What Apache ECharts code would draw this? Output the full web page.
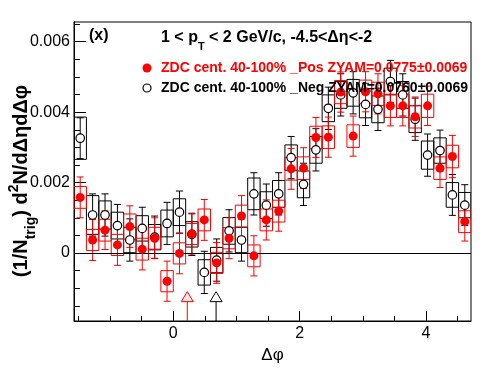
<!DOCTYPE html>
<html><head><meta charset="utf-8">
<script src="https://cdn.jsdelivr.net/npm/echarts@6/dist/echarts.min.js"></script>
<style>html,body{margin:0;padding:0;background:#fff}#c{width:496px;height:374px}</style>
</head><body><div id="c"></div>
<script>
// ---- data ----
const xMin = -Math.PI / 2, xMax = 3 * Math.PI / 2;
const nBins = 32;
const binWidth = (xMax - xMin) / nBins;
const binCenters = Array.from({length: nBins}, (_, i) => xMin + (i + 0.5) * binWidth);

const posVals = [1.58,0.37,0.65,0.23,0.75,0.11,0.42,-0.80,-0.01,0.54,0.94,-0.28,0.42,1.05,-0.08,0.94,
                 1.19,2.39,2.41,3.28,3.29,4.57,3.32,4.58,4.52,4.18,4.18,3.87,4.18,2.41,2.74,0.89];
const posErr  = [0.58,0.58,0.55,0.58,0.59,0.59,0.58,0.57,0.58,0.57,0.58,0.58,0.58,0.58,0.57,0.57,
                 0.57,0.58,0.58,0.57,0.57,0.57,0.57,0.57,0.57,0.57,0.57,0.56,0.56,0.55,0.60,0.55];
const posSys  = [0.31,0.30,0.31,0.30,0.36,0.31,0.31,0.30,0.30,0.30,0.31,0.30,0.30,0.31,0.31,0.31,
                 0.31,0.32,0.32,0.32,0.32,0.33,0.32,0.33,0.33,0.33,0.33,0.32,0.33,0.32,0.32,0.31];

const negVals = [3.26,1.08,1.08,0.78,0.37,0.70,0.45,0.84,1.16,0.53,-0.55,-0.20,0.63,0.37,1.68,1.36,
                 1.68,2.71,1.95,2.93,4.11,4.49,4.55,4.22,4.08,4.87,4.49,3.80,2.78,2.91,1.65,1.36];
const negErr  = [0.58,0.60,0.60,0.60,0.60,0.60,0.60,0.60,0.60,0.60,0.60,0.60,0.60,0.60,0.60,0.60,
                 0.60,0.60,0.60,0.60,0.60,0.60,0.60,0.60,0.60,0.60,0.60,0.60,0.60,0.58,0.58,0.58];
const negSys  = [0.60,0.55,0.40,0.38,0.36,0.36,0.36,0.38,0.38,0.36,0.36,0.36,0.38,0.36,0.45,0.38,
                 0.38,0.36,0.38,0.38,0.38,0.38,0.38,0.38,0.38,0.38,0.38,0.38,0.40,0.36,0.35,0.36];

const scale = 1e-3;
const zyamMinX = {pos: 0.222, neg: 0.678};
const zyamMarkY = -1.38e-3;

const xLabelTicks = [0, 2, 4];
const xMinorTicks = [-1.5,-1,-0.5,0,0.5,1,1.5,2,2.5,3,3.5,4,4.5];
const yLabelTicks = [0, 0.002, 0.004, 0.006];
const yMinorTicks = [-0.0015,-0.001,-0.0005,0,0.0005,0.001,0.0015,0.002,0.0025,0.003,0.0035,0.004,0.0045,0.005,0.0055,0.006,0.0065];
const yMin = -0.00193, yMax = 0.00656;

// ---- build ----
function rows(vals, err, sys) {
  return binCenters.map((x, i) => [x, vals[i] * scale, err[i] * scale, sys[i] * scale]);
}
const posData = rows(posVals, posErr, posSys);
const negData = rows(negVals, negErr, negSys);

function boxSeries(data, color) {
  return {
    type: 'custom', data, z: 2, clip: true, silent: true,
    renderItem(params, api) {
      const x = api.value(0), v = api.value(1), s = api.value(3);
      const p1 = api.coord([x - binWidth / 2, v + s]);
      const p2 = api.coord([x + binWidth / 2, v - s]);
      return {type: 'rect', shape: {x: p1[0], y: p1[1], width: p2[0] - p1[0], height: p2[1] - p1[1]},
              style: {fill: 'none', stroke: color, lineWidth: 1}};
    }
  };
}
function errSeries(data, color) {
  return {
    type: 'custom', data, z: 3, clip: true, silent: true,
    renderItem(params, api) {
      const x = api.value(0), v = api.value(1), e = api.value(2);
      const hi = api.coord([x, v + e]), lo = api.coord([x, v - e]);
      const c = 3.5;
      return {type: 'group', children: [
        {type: 'line', shape: {x1: hi[0], y1: hi[1], x2: lo[0], y2: lo[1]}, style: {stroke: color, lineWidth: 1}},
        {type: 'line', shape: {x1: hi[0] - c, y1: hi[1], x2: hi[0] + c, y2: hi[1]}, style: {stroke: color, lineWidth: 1}},
        {type: 'line', shape: {x1: lo[0] - c, y1: lo[1], x2: lo[0] + c, y2: lo[1]}, style: {stroke: color, lineWidth: 1}}
      ]};
    }
  };
}
function zyamSeries(x, color, fill) {
  return {
    type: 'custom', data: [[x, zyamMarkY]], z: 6, clip: false, silent: true,
    renderItem(params, api) {
      const p = api.coord([api.value(0), api.value(1)]);
      const bottom = api.coord([api.value(0), yMin]);
      return {type: 'group', children: [
        {type: 'line', shape: {x1: p[0], y1: p[1], x2: bottom[0], y2: bottom[1]}, style: {stroke: color, lineWidth: 1}},
        {type: 'polygon', shape: {points: [[p[0] - 6, p[1]], [p[0] + 6, p[1]], [p[0], p[1] - 10]]},
         style: {fill: fill, stroke: color, lineWidth: 1}}
      ]};
    }
  };
}

const baseFont = 'Liberation Sans, Arial, Helvetica, sans-serif';
const option = {
  animation: false,
  backgroundColor: '#fff',
  grid: {left: 74, right: 25, top: 22, bottom: 53, show: true, borderColor: '#000', borderWidth: 1, backgroundColor: 'transparent'},
  xAxis: [
    {type: 'value', min: xMin, max: xMax, position: 'bottom', offset: 0,
     axisLine: {show: true, onZero: false, lineStyle: {color: '#000', width: 1}},
     axisTick: {show: true, inside: true, length: 10, customValues: xLabelTicks, lineStyle: {color: '#000'}},
     axisLabel: {show: true, customValues: xLabelTicks, color: '#000', fontSize: 16, fontFamily: baseFont, margin: 5,
                 formatter: v => String(v)},
     splitLine: {show: false},
     name: 'Δφ', nameLocation: 'middle', nameGap: 26,
     nameTextStyle: {color: '#000', fontSize: 17, fontFamily: baseFont}},
    {type: 'value', min: xMin, max: xMax, position: 'bottom', offset: 0,
     axisLine: {show: false, onZero: false},
     axisTick: {show: true, inside: true, length: 5, customValues: xMinorTicks, lineStyle: {color: '#000'}},
     axisLabel: {show: false}, splitLine: {show: false}}
  ],
  yAxis: [
    {type: 'value', min: yMin, max: yMax, position: 'left', offset: 0,
     axisLine: {show: true, onZero: false, lineStyle: {color: '#000', width: 1}},
     axisTick: {show: true, inside: true, length: 12, customValues: yLabelTicks, lineStyle: {color: '#000'}},
     axisLabel: {show: true, customValues: yLabelTicks, color: '#000', fontSize: 16, fontFamily: baseFont, margin: 4,
                 formatter: v => (Math.abs(v) < 1e-12 ? '0' : v.toFixed(3))},
     splitLine: {show: false}},
    {type: 'value', min: yMin, max: yMax, position: 'left', offset: 0,
     axisLine: {show: false, onZero: false},
     axisTick: {show: true, inside: true, length: 6, customValues: yMinorTicks, lineStyle: {color: '#000'}},
     axisLabel: {show: false}, splitLine: {show: false}}
  ],
  series: [
    {type: 'line', data: [], markLine: {silent: true, symbol: ['none', 'none'], label: {show: false},
      lineStyle: {color: '#000', type: 'solid', width: 1}, data: [{yAxis: 0}]}},
    boxSeries(negData, '#000'),
    errSeries(negData, '#000'),
    {type: 'scatter', data: negData.map(d => [d[0], d[1]]), symbol: 'circle', symbolSize: 8.5, z: 4, silent: true,
     itemStyle: {color: '#fff', borderColor: '#000', borderWidth: 1.2, opacity: 1}},
    boxSeries(posData, '#ff0000'),
    errSeries(posData, '#ff0000'),
    {type: 'scatter', data: posData.map(d => [d[0], d[1]]), symbol: 'circle', symbolSize: 9, z: 5, silent: true,
     itemStyle: {color: '#ff0000', opacity: 1}},
    zyamSeries(zyamMinX.pos, '#ff0000', '#ffe8e8'),
    zyamSeries(zyamMinX.neg, '#000', '#fff')
  ],
  graphic: [
    {type: 'text', left: 89, top: 28, z: 100, style: {text: '(x)', fontSize: 16, fontWeight: 'bold', fontFamily: baseFont, fill: '#000'}},
    {type: 'text', x: 161, y: 38, z: 100, style: {
      text: '1 < p{sub|T} < 2 GeV/c, -4.5<Δη<-2', fontSize: 16, fontWeight: 'bold', fontFamily: baseFont, fill: '#000',
      verticalAlign: 'middle', align: 'left',
      rich: {sub: {fontSize: 11, fontWeight: 'bold', fontFamily: baseFont, fill: '#000', padding: [18, 0, 0, 0]}}}},
    {type: 'circle', shape: {cx: 147, cy: 68, r: 4.5}, z: 100, style: {fill: '#ff0000'}},
    {type: 'text', x: 161, y: 68, z: 100, style: {text: 'ZDC cent. 40-100% _Pos ZYAM=0.0775±0.0069', fontSize: 14, fontWeight: 'bold',
      fontFamily: baseFont, fill: '#ff0000', verticalAlign: 'middle'}},
    {type: 'circle', shape: {cx: 147, cy: 88, r: 4}, z: 100, style: {fill: '#fff', stroke: '#000', lineWidth: 1.2}},
    {type: 'text', x: 161, y: 88, z: 100, style: {text: 'ZDC cent. 40-100% _Neg ZYAM=0.0760±0.0069', fontSize: 14, fontWeight: 'bold',
      fontFamily: baseFont, fill: '#000', verticalAlign: 'middle'}},
    {type: 'text', x: 21, y: 181, rotation: Math.PI / 2, z: 100, style: {
      text: '(1/N{sub|trig}) d{sup|2}N/dΔηdΔφ', fontSize: 20, fontWeight: 'bold', fontFamily: baseFont, fill: '#000',
      align: 'center', verticalAlign: 'middle',
      rich: {sub: {fontSize: 14, fontWeight: 'bold', fontFamily: baseFont, fill: '#000', padding: [20, 0, 0, 0]},
             sup: {fontSize: 14, fontWeight: 'bold', fontFamily: baseFont, fill: '#000', padding: [0, 0, 14, 0]}}}}
  ]
};
const chart = echarts.init(document.getElementById('c'), null, {renderer: 'canvas'});
chart.setOption(option);
</script></body></html>
